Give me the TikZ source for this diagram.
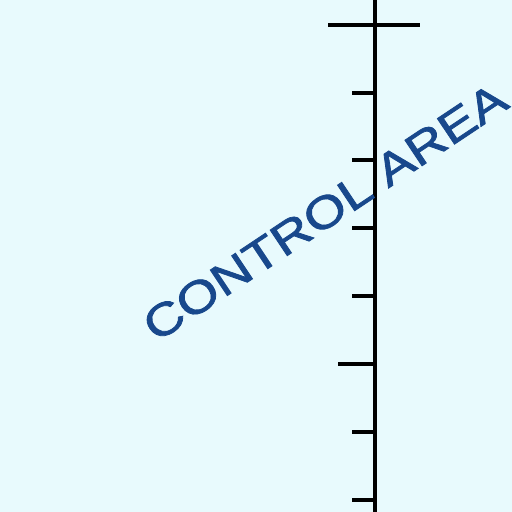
\documentclass[tikz,border=0pt]{standalone}
\usepackage{fontspec}
\setmainfont{Liberation Sans}
\newfontfamily\labelfont[FakeBold=1.6]{Liberation Sans}
\definecolor{paper}{RGB}{232,250,253}
\definecolor{inkblue}{RGB}{24,72,140}
\usetikzlibrary{positioning}

\begin{document}
\begin{tikzpicture}[x=0.025cm,y=-0.025cm,
  axis/.style={line width=2.3pt,black},
  tick/.style={line width=2.3pt,black},
  label/.style={text=inkblue,font=\labelfont\fontsize{32}{32}\selectfont,inner sep=0pt}]
  \fill[paper] (0,0) rectangle (512,512);
  \useasboundingbox (0,0) rectangle (512,512);
  % scale
  \coordinate (top) at (375,-2);
  \coordinate (bot) at (375,514);
  \draw[axis] (top) -- (bot);
  \draw[tick] (328,25) -- (420,25);
  \foreach \y in {93,160,228,296,432,500}
    \draw[tick] (352,\y) -- (375,\y);
  \draw[tick] (338,364) -- (375,364);
  % label
  \node[label,rotate=33.7] (ctrl) at (325,212) {\scalebox{1.2}[1]{CONTROL AREA}};
\end{tikzpicture}
\end{document}
